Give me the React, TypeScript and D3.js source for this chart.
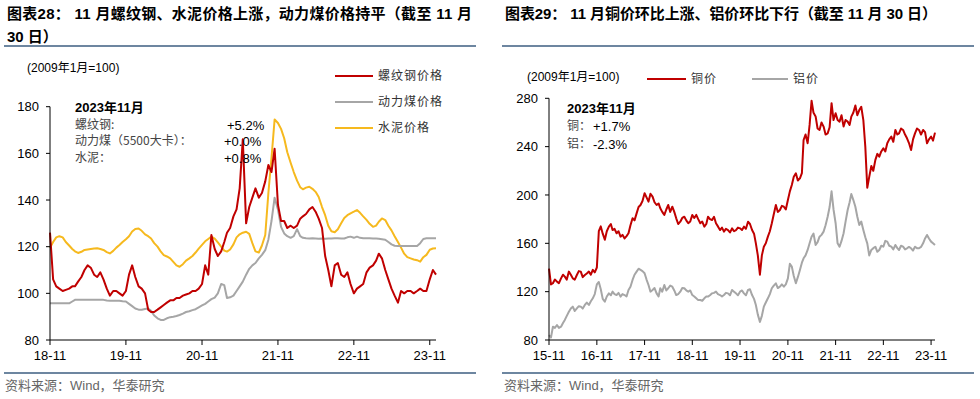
import React from 'react';
import * as d3 from 'd3';

// left panel: half-month samples from 2018-11
const rebar = [126,106,103,102,101,101.5,102,103,103,105,
  107,110,112,111,108,107,109,106,102,99,
  101,101,100,99,101,108,112,107,103,102,
  100,93,92,92,93,94,95,96,97,97,
  98,98,99,99.5,100,101,101,102,104,112,
  108,125,119,116,118,122,126,128,133,136,
  145,166,130,137,141,145,141,143,148,155,
  152,162,138,131,131,128,129,128,129,132,
  133,134,136,137,135,132,128,116,110,103,
  112,113,108,107,109,104,100,102,103,104,
  109,111,112,114,117,115,110,106,102,99,
  96,101,100,101,101,100,101,102,101,101,
  106,110,108];
const coal = [95.7,95.7,95.7,95.7,95.7,95.7,95.7,96.5,97.2,97.2,
  97.2,97.2,97.2,97.2,97.2,97.2,97.2,97.2,96.9,96.8,
  96.8,96.8,96.8,96.6,96.5,95.5,94.5,93.5,93,93,
  93.3,93.5,92.5,90.5,89.3,88.6,88.6,89.3,89.8,90,
  90.3,90.7,91.3,92,92.3,92.8,93.2,94,94.8,95.5,
  96.5,97.5,98.2,100,104,103.5,98,98.3,99,101,
  103,105,108,110.5,112,113,115,116.5,118.5,123,
  131,141,136,128.5,125.7,124.5,123.8,124.5,127.5,124.5,
  123.8,123.6,123.5,123.6,123.5,123.4,123.5,123.4,123.5,123.5,
  123.6,123.6,123.5,123.5,124,124.3,123.8,124.3,123.8,123.6,
  123.6,123.6,123.5,123.5,123.4,123.2,123,122,121,120.4,
  120.3,120.3,120.3,120.3,120.3,120.3,120.3,121.5,123.3,123.6,
  123.6,123.6,123.6];
const cement = [119.5,122,124,124.5,124,122,120.5,119,118,117.3,
  117.8,118.6,118.8,119,119.2,119.3,119,118.6,117.7,117.1,
  118.2,119.6,120.7,122,123.2,124.5,126.5,127.6,127.8,126.8,
  125.3,124.5,123.5,121.5,120,118,116.4,115.8,115,113.5,
  112,111.4,112.5,114,115,116,117.5,119.2,120.8,122.3,
  123.3,124.3,123.5,121.8,120,118.3,117.9,118.8,121,124,
  125.3,126,126.4,125.5,121.5,118,117.5,120.5,125,143,
  158,174.5,173,170.5,166.5,160.5,156,152,148.3,145.5,
  144.6,145.3,145.7,144.8,143.5,141.3,137,133.5,129,126.6,
  126.2,127.5,130,132.3,133.5,134.3,135,135.7,134.5,133,
  131.5,129.8,128.5,129,130.7,132.1,131.4,129,127,124.5,
  122,119.6,117,115.5,115,114.5,114.2,113.6,115.5,116.5,
  118.7,119.2,119.3];

// right panel: half-month samples from 2015-11
const copper = [139,126, 127,130, 128.3,127, 131,134, 132.4,130, 136.6,134, 131,130, 133.8,137, 136.6,132, 133.8,135,
  136.6,134, 138,136, 140,170, 174,168, 163,170, 173.8,176, 171,172, 168.3,170, 165.5,167, 164,166,
  168.3,175, 180.7,179, 184.8,190, 191.7,195, 201.4,198, 194.5,201, 198.6,194, 191.7,193, 189,186, 183.5,188,
  191.7,186, 190.3,186, 180.7,176, 177.9,181, 182,179, 176.6,178, 183.5,181, 183.5,180, 176.6,178, 173.8,176,
  182,180, 179.3,182, 176.6,174, 171,173, 169.7,172, 171,169, 172.4,170, 171,173, 172.4,171, 173.8,172,
  177.9,176, 171,168, 160,150, 134,150, 157.2,160, 165.5,170, 176.6,184, 191.7,186, 187.6,191, 190.3,188,
  195.9,203, 208.3,215, 217.9,212, 213.8,218, 245.5,250, 242.8,258, 278,268, 265,255, 253.8,260, 256.6,250,
  251,256, 276,262, 267.6,262, 260.7,266, 256.6,262, 260.7,258, 264.8,268, 274,266, 270.3,273, 262,240,
  206,215, 224,220, 229,234, 231.7,236, 238.6,236, 242.8,246, 248.3,244, 253.8,250, 251,255, 253.8,250,
  246.9,243, 237.2,246, 251,255, 253.8,250, 253.8,252, 242.8,246, 248.3,245, 251.6];
const aluminium = [84,82, 91,90, 92.4,90, 91,94, 96.6,100, 103.4,106, 107.6,104, 106.2,108, 107.6,106, 109,111,
  109,112, 114.5,118, 126,128, 122,114, 111.7,116, 118.6,117, 120,118, 117.2,119, 115.9,118, 117.2,116,
  121.4,124, 129.7,134, 136.6,139, 138,137, 135.2,130, 125.5,120, 121.4,123, 118.6,116, 122.8,120, 125.5,121,
  122.8,125, 124.1,121, 117.2,118, 120,123, 122.8,121, 120,121, 117.2,116, 114.5,113, 113.1,112.5, 114.5,116,
  115.9,117, 118.6,119, 120,118, 117.2,116, 117.2,119, 118.6,117, 121.4,120, 118.6,117, 120,121, 118.6,117,
  121.4,122, 117.2,114, 109,101, 95,100, 107.6,111, 114.5,118, 122.8,125, 126.9,123, 124.1,126, 124.1,126,
  131,143, 140.7,133, 126.9,132, 138,144, 147.6,150, 154.5,160, 165.5,168, 158.6,161, 165.5,167, 169.7,175,
  182,190, 203,188, 176.6,160, 157.2,162, 168.3,178, 187.6,194, 200.8,196, 190.3,182, 175.2,178, 171,165,
  160,150, 154.5,156, 157.2,153, 154.5,158, 157.2,162, 161.4,158, 157.2,155, 158.6,156, 154.5,158, 157.2,155,
  155.9,157, 155.9,154, 157.2,156, 155.9,157, 160,164, 166.9,164, 161.4,160, 158.6];

const leftXLabels = ['18-11', '19-11', '20-11', '21-11', '22-11', '23-11'];
const rightXLabels = ['15-11', '16-11', '17-11', '18-11', '19-11', '20-11', '21-11', '22-11', '23-11'];
const leftYTicks = [80, 100, 120, 140, 160, 180];
const rightYTicks = [80, 120, 160, 200, 240, 280];

const RED = '#c00000';
const GREY = '#a6a6a6';
const GOLD = '#f6b91e';
const RULE = '#6d86a0';
const LATIN = "'Liberation Sans', Arial, 'Noto Sans CJK SC', sans-serif";
const CJK = "'Noto Sans CJK SC', sans-serif";

const labelDate = (s: string) => new Date(2000 + +s.slice(0, 2), +s.slice(3) - 1, 1);
const halfMonthFrom = (y: number, m: number) => (i: number) => new Date(y, m + Math.floor(i / 2), i % 2 ? 16 : 1);

function Panel({ x0, x1, yTop, start, end, yDomain, yTicks, xLabels, series }: any) {
  const x = d3.scaleTime().domain([start, end]).range([x0, x1]);
  const y = d3.scaleLinear().domain(yDomain).range([340, yTop]);
  const line = d3.line<any>().x(d => x(d[0])).y(d => y(d[1]));
  return (
    <g>
      {series.map((s: any, k: number) => (
        <path key={k} d={line(s.values.map((v: number, i: number) => [s.date(i), v])) || ''}
          fill="none" stroke={s.color} strokeWidth={2} strokeLinejoin="round" />
      ))}
      <line x1={x0} x2={x0} y1={yTop} y2={340} stroke="#000" />
      <line x1={x0} x2={x1} y1={340} y2={340} stroke="#000" />
      {yTicks.map((t: number) => (
        <g key={t}>
          <line x1={x0 - 4} x2={x0} y1={y(t)} y2={y(t)} stroke="#000" />
          <text x={x0 - 11} y={y(t)} dy="0.35em" textAnchor="end" fontSize={13} fontFamily={LATIN}>{t}</text>
        </g>
      ))}
      {xLabels.map((l: string) => {
        const px = x(labelDate(l));
        return (
          <g key={l}>
            <line x1={px} x2={px} y1={340} y2={345} stroke="#000" />
            <text x={px} y={360} textAnchor="middle" fontSize={13} fontFamily={LATIN}>{l}</text>
          </g>
        );
      })}
    </g>
  );
}

export default function App() {
  const leftDate = halfMonthFrom(2018, 10);
  const rightDate = halfMonthFrom(2015, 10);
  return (
    <svg width={980} height={399} style={{ position: 'absolute', left: 0, top: 0, background: '#fff' }}>
      {/* titles */}
      <text x={7} y={19} fontSize={15} fontWeight="bold" fontFamily={LATIN} textLength={465} lengthAdjust="spacing">图表28： 11 月螺纹钢、水泥价格上涨，动力煤价格持平（截至 11 月</text>
      <text x={7} y={42} fontSize={15} fontWeight="bold" fontFamily={LATIN}>30 日）</text>
      <text x={505} y={19} fontSize={15} fontWeight="bold" fontFamily={LATIN} textLength={432} lengthAdjust="spacing">图表29： 11 月铜价环比上涨、铝价环比下行（截至 11 月 30 日）</text>
      <line x1={4} x2={476} y1={46} y2={46} stroke={RULE} strokeWidth={2} />
      <line x1={502} x2={974} y1={46} y2={46} stroke={RULE} strokeWidth={2} />
      <line x1={4} x2={476} y1={373} y2={373} stroke={RULE} strokeWidth={2} />
      <line x1={502} x2={974} y1={373} y2={373} stroke={RULE} strokeWidth={2} />
      <text x={5} y={390} fontSize={13} fill="#666" fontFamily={LATIN}>资料来源：Wind，华泰研究</text>
      <text x={504} y={390} fontSize={13} fill="#666" fontFamily={LATIN}>资料来源：Wind，华泰研究</text>

      {/* left panel */}
      <Panel x0={50} x1={436} yTop={106.7} start={new Date(2018, 10, 1)} end={new Date(2023, 11, 1)}
        yDomain={[80, 180]} yTicks={leftYTicks} xLabels={leftXLabels}
        series={[
          { values: cement, color: GOLD, date: leftDate },
          { values: coal, color: GREY, date: leftDate },
          { values: rebar, color: RED, date: leftDate },
        ]} />
      <text x={27} y={68} dy="0.35em" fontSize={12} fontFamily={LATIN}>(2009年1月=100)</text>
      {[['螺纹钢价格', RED, 76], ['动力煤价格', GREY, 102], ['水泥价格', GOLD, 128]].map(([t, c, yy]: any) => (
        <g key={t}>
          <line x1={335} x2={373} y1={yy} y2={yy} stroke={c} strokeWidth={2} />
          <text x={378} y={yy} dy="0.35em" fontSize={12} letterSpacing={1} fill="#333" fontFamily={CJK}>{t}</text>
        </g>
      ))}
      <text x={75} y={107} dy="0.35em" fontSize={13} fontWeight="bold" fontFamily={LATIN}>2023年11月</text>
      <text x={75} y={125} dy="0.35em" fontSize={12} fill="#444" fontFamily={CJK}>螺纹钢:</text>
      <text x={75} y={141} dy="0.35em" fontSize={12} fill="#444" fontFamily={CJK}>动力煤（5500大卡）：</text>
      <text x={75} y={158} dy="0.35em" fontSize={12} fill="#444" fontFamily={CJK}>水泥：</text>
      <text x={227} y={125} dy="0.35em" fontSize={13} fontFamily={LATIN}>+5.2%</text>
      <text x={224} y={141} dy="0.35em" fontSize={13} fontFamily={LATIN}>+0.0%</text>
      <text x={224} y={158} dy="0.35em" fontSize={13} fontFamily={LATIN}>+0.8%</text>

      {/* right panel */}
      <Panel x0={549} x1={935} yTop={98.3} start={new Date(2015, 10, 1)} end={new Date(2023, 11, 1)}
        yDomain={[80, 280]} yTicks={rightYTicks} xLabels={rightXLabels}
        series={[
          { values: aluminium, color: GREY, date: rightDate },
          { values: copper, color: RED, date: rightDate },
        ]} />
      <text x={527} y={77} dy="0.35em" fontSize={12} fontFamily={LATIN}>(2009年1月=100)</text>
      {[['铜价', RED, 647, 686], ['铝价', GREY, 752, 788]].map(([t, c, a, b]: any) => (
        <g key={t}>
          <line x1={a} x2={b} y1={79} y2={79} stroke={c} strokeWidth={2} />
          <text x={b + 5} y={79} dy="0.35em" fontSize={12} letterSpacing={1} fill="#333" fontFamily={CJK}>{t}</text>
        </g>
      ))}
      <text x={567} y={108} dy="0.35em" fontSize={13} fontWeight="bold" fontFamily={LATIN}>2023年11月</text>
      <text x={567} y={126} dy="0.35em" fontSize={12} fill="#444" fontFamily={CJK}>铜：</text>
      <text x={593} y={126} dy="0.35em" fontSize={13} fontFamily={LATIN}>+1.7%</text>
      <text x={567} y={144} dy="0.35em" fontSize={12} fill="#444" fontFamily={CJK}>铝：</text>
      <text x={593} y={144} dy="0.35em" fontSize={13} fontFamily={LATIN}>-2.3%</text>
    </svg>
  );
}
